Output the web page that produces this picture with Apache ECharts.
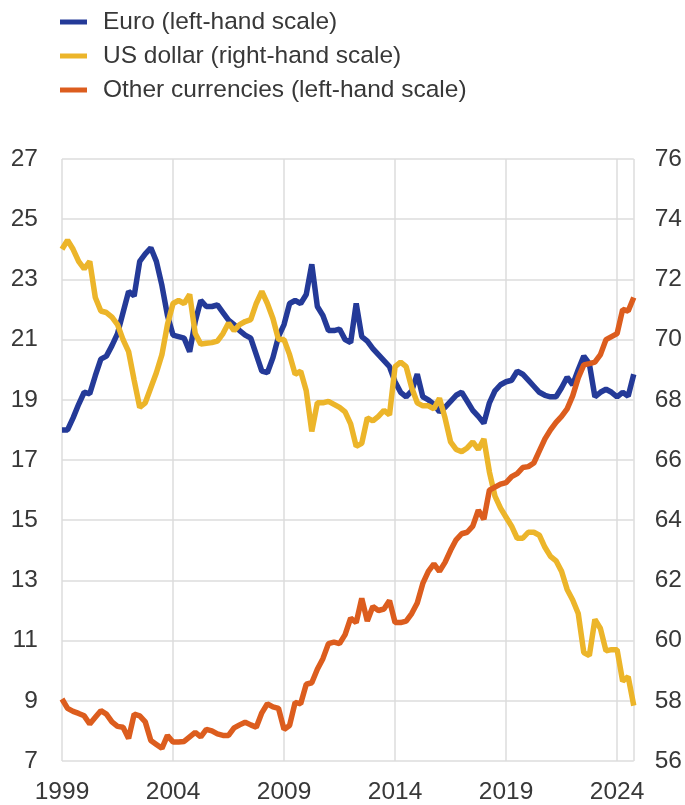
<!DOCTYPE html>
<html><head><meta charset="utf-8">
<script src="https://cdn.jsdelivr.net/npm/echarts@6/dist/echarts.min.js"></script>
<style>html,body{margin:0;padding:0;background:#fff}#chart{width:685px;height:805px}</style>
</head><body><div id="chart"></div>
<script>
// Quarterly data, 1999 Q1 - 2024 Q4
const startYear = 1999;
const seriesNames = ['Euro (left-hand scale)', 'US dollar (right-hand scale)', 'Other currencies (left-hand scale)'];
const euro = [
  18.0, 18.0, 18.4, 18.85,
  19.25, 19.2, 19.8, 20.35,
  20.45, 20.8, 21.2, 21.9,
  22.6, 22.45, 23.6, 23.85,
  24.05, 23.6, 22.8, 21.8,
  21.15, 21.1, 21.05, 20.6,
  21.6, 22.3, 22.1, 22.1,
  22.15, 21.9, 21.65, 21.5,
  21.3, 21.15, 21.05, 20.5,
  19.95, 19.9, 20.4, 21.1,
  21.5, 22.2, 22.3, 22.2,
  22.5, 23.5, 22.1, 21.8,
  21.3, 21.3, 21.35, 21.0,
  20.9, 22.2, 21.1, 20.95,
  20.7, 20.5, 20.3, 20.1,
  19.6, 19.25, 19.1, 19.3,
  19.85, 19.1, 19.0, 18.85,
  18.6, 18.75, 18.95, 19.15,
  19.25, 18.95, 18.65, 18.45,
  18.22, 18.9, 19.3, 19.5,
  19.6, 19.65, 19.95, 19.85,
  19.65, 19.45, 19.25, 19.15,
  19.1, 19.1, 19.4, 19.75,
  19.5, 20.0, 20.45, 20.2,
  19.1, 19.25, 19.35, 19.25,
  19.1, 19.25, 19.12, 19.85
];
const usDollar = [
  73.0, 73.3, 73.0, 72.6,
  72.35, 72.6, 71.4, 70.95,
  70.9, 70.75, 70.5, 70.0,
  69.6, 68.65, 67.75, 67.9,
  68.4, 68.9, 69.5, 70.5,
  71.2, 71.3, 71.2, 71.5,
  70.2, 69.85, 69.88, 69.9,
  69.95, 70.2, 70.55, 70.3,
  70.5, 70.6, 70.66, 71.2,
  71.6, 71.2, 70.7, 70.0,
  70.0, 69.5, 68.85, 68.95,
  68.3, 66.95, 67.9, 67.9,
  67.95, 67.85, 67.75, 67.6,
  67.2, 66.45, 66.55, 67.4,
  67.3, 67.45, 67.65, 67.5,
  69.1, 69.25, 69.1, 68.4,
  67.9, 67.8, 67.8, 67.7,
  68.05, 67.4, 66.6, 66.35,
  66.28, 66.4, 66.6, 66.35,
  66.7, 65.6, 64.8, 64.4,
  64.1, 63.8, 63.4, 63.4,
  63.6, 63.6, 63.5, 63.1,
  62.8, 62.65, 62.3, 61.7,
  61.35, 60.9, 59.6, 59.5,
  60.7, 60.4, 59.66, 59.7,
  59.7, 58.65, 58.8, 57.84
];
const otherCurrencies = [
  9.06, 8.75, 8.65, 8.58,
  8.5, 8.23, 8.45, 8.67,
  8.56, 8.3, 8.15, 8.12,
  7.75, 8.56, 8.5, 8.3,
  7.68, 7.55, 7.42, 7.85,
  7.63, 7.63, 7.65, 7.8,
  7.95, 7.8, 8.05, 8.0,
  7.9, 7.85, 7.85, 8.1,
  8.2, 8.29, 8.2, 8.12,
  8.6, 8.9, 8.8, 8.75,
  8.05, 8.18, 8.95, 8.9,
  9.55, 9.6, 10.05, 10.4,
  10.9, 10.95, 10.9, 11.2,
  11.75, 11.6, 12.4, 11.65,
  12.13, 12.0, 12.05, 12.33,
  11.6, 11.6, 11.65, 11.9,
  12.25, 12.9, 13.3, 13.55,
  13.3, 13.6, 14.0, 14.35,
  14.55, 14.6, 14.8, 15.33,
  15.03, 16.0, 16.1, 16.2,
  16.25, 16.45, 16.55, 16.75,
  16.78, 16.9, 17.3, 17.7,
  18.0, 18.25, 18.45, 18.7,
  19.13, 19.73, 20.16, 20.2,
  20.25, 20.5, 21.0, 21.1,
  21.2, 22.0, 21.95, 22.4
];
const xTickLabels = [1999, 2004, 2009, 2014, 2019, 2024];
const leftTicks = [7, 9, 11, 13, 15, 17, 19, 21, 23, 25, 27];
const rightTicks = [56, 58, 60, 62, 64, 66, 68, 70, 72, 74, 76];

const quarters = euro.map((_, i) => startYear + i / 4);
const pairs = arr => arr.map((v, i) => [quarters[i], v]);

const FONT = "'Liberation Sans', Arial, sans-serif";
const TXT = '#383838';
const FS = 24.5;
const colors = ['#243a98', '#ecb52a', '#dc5d1e'];

const chart = echarts.init(document.getElementById('chart'), null, {renderer: 'canvas'});
chart.setOption({
  animation: false,
  color: colors,
  textStyle: {fontFamily: FONT},
  legend: {
    orient: 'vertical', left: 55, top: 3,
    icon: 'rect', itemWidth: 27, itemHeight: 5, itemGap: 6,
    data: seriesNames,
    textStyle: {fontFamily: FONT, fontSize: FS, color: TXT, lineHeight: 28, padding: [0, 0, 0, 11]}
  },
  grid: {left: 62, right: 51, top: 159, bottom: 41, containLabel: false},
  xAxis: {
    type: 'value', min: xTickLabels[0], max: 2024.75, interval: 5,
    axisLine: {show: false}, axisTick: {show: false},
    splitLine: {show: true, lineStyle: {color: '#dcdcdc', width: 1.5}},
    axisLabel: {
      fontFamily: FONT, fontSize: FS, color: TXT, margin: 19, showMaxLabel: false,
      formatter: v => xTickLabels.includes(v) ? String(v) : ''
    }
  },
  yAxis: [
    {
      type: 'value', min: leftTicks[0], max: leftTicks[leftTicks.length - 1], interval: 2,
      axisLine: {show: false}, axisTick: {show: false},
      splitLine: {show: true, lineStyle: {color: '#dcdcdc', width: 1.5}},
      axisLabel: {fontFamily: FONT, fontSize: FS, color: TXT, margin: 24}
    },
    {
      type: 'value', position: 'right', min: rightTicks[0], max: rightTicks[rightTicks.length - 1], interval: 2,
      axisLine: {show: false}, axisTick: {show: false}, splitLine: {show: false},
      axisLabel: {fontFamily: FONT, fontSize: FS, color: TXT, margin: 21}
    }
  ],
  series: [
    {name: seriesNames[0], type: 'line', yAxisIndex: 0, data: pairs(euro), showSymbol: false, lineStyle: {width: 5.5}, z: 2},
    {name: seriesNames[1], type: 'line', yAxisIndex: 1, data: pairs(usDollar), showSymbol: false, lineStyle: {width: 5.5}, z: 3},
    {name: seriesNames[2], type: 'line', yAxisIndex: 0, data: pairs(otherCurrencies), showSymbol: false, lineStyle: {width: 5.5}, z: 4}
  ]
});
</script></body></html>
